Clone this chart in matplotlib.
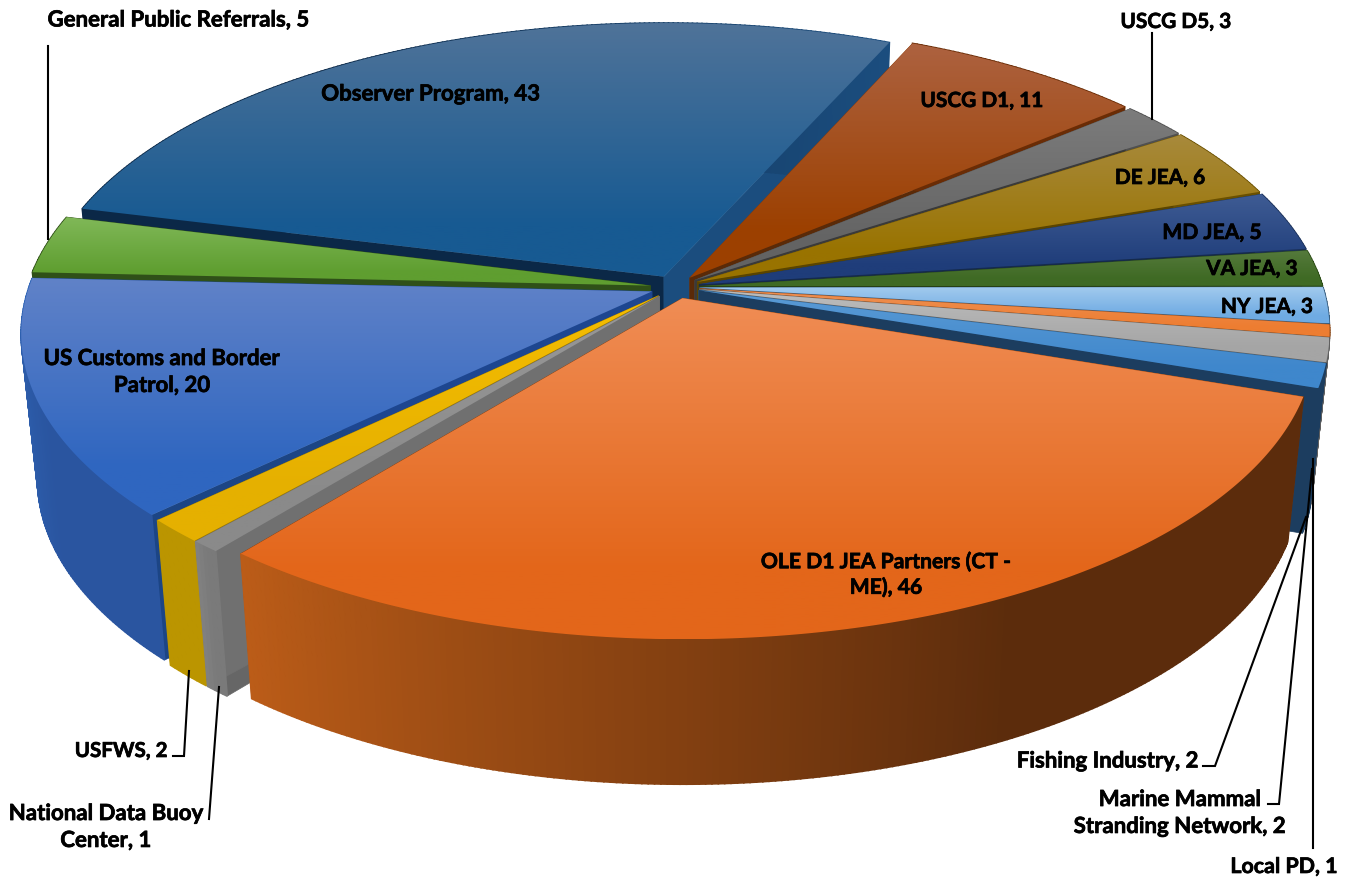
import matplotlib as mpl
mpl.use('Agg')
import matplotlib.pyplot as plt
import matplotlib.patheffects as pe
from matplotlib.colors import to_rgb
from matplotlib.patches import Polygon
import numpy as np

plt.rcParams['font.family'] = ['Lato', 'DejaVu Sans']

# clockwise from the first slice
names = ['USCG D1', 'USCG D5', 'DE JEA', 'MD JEA', 'VA JEA', 'NY JEA',
         'Local PD', 'Marine Mammal\nStranding Network', 'Fishing Industry',
         'OLE D1 JEA Partners (CT -\nME)', 'National Data Buoy\nCenter', 'USFWS',
         'US Customs and Border\nPatrol', 'General Public Referrals', 'Observer Program']
values = [11, 3, 6, 5, 3, 3, 1, 2, 2, 46, 1, 2, 20, 5, 43]

top_light = ['#ad6240', '#7c7c7c', '#a88a3c', '#3f5c94', '#557a3c', '#a3cbee', '#ee9155',
             '#bdbdbd', '#5b9bd5', '#f08d55', '#989898', '#f5bd00', '#6082c8', '#80b858', '#4f7399']
top_dark = ['#9c4000', '#636363', '#997300', '#1f3d7a', '#3f6a24', '#6fabe3', '#ed7d31',
            '#a5a5a5', '#3f87cc', '#e3661a', '#8a8a8a', '#e5b000', '#2f66c0', '#5f9e30', '#175a92']
face_start = ['#8a3a08', '#555555', '#7a5c00', '#1f3a66', '#2f5018', '#5a8ab8', '#b05a20',
              '#808080', '#2f6ea8', '#b05010', '#666666', '#b08a00', '#1c4585', '#2f5018', '#0b2847']
face_end = ['#5a2a08', '#3a3a3a', '#5a4400', '#152a4c', '#263f14', '#3a5f80', '#8a4818',
            '#606060', '#1c3d5f', '#8a4010', '#707070', '#a07d00', '#1d4690', '#2f5018', '#1b4d7e']
wall_a = ['#6a2c05', '#505050', '#6a5000', '#1a3058', '#2a4a14', '#3a5f80', '#8a4818',
          '#606060', '#1c3d5f', '#5c2c0c', '#7a7a7a', '#bb9500', '#2a55a0', '#2f5018', '#0b2847']
wall_b = ['#6a2c05', '#505050', '#6a5000', '#1a3058', '#2a4a14', '#3a5f80', '#8a4818',
          '#606060', '#1c3d5f', '#bb5c18', '#808080', '#bb9500', '#2f66b8', '#2f5018', '#1b4d7e']

label_xy = [(982, 102), (1176, 23), (1160, 179), (1212, 234), (1252, 270), (1267, 308),
            (1284, 868), (1180, 814), (1108, 762), (886, 576), (106, 828), (121, 752), (162, 373),
            (179, 21), (431, 95)]
label_size = [15, 15, 15, 15.2, 15, 15, 15.4, 16, 16, 15.2, 16, 14.8, 16, 16, 16]

leaders = [[(48, 47), (48, 240)], [(1152, 34), (1152, 120)], [(173, 757), (184, 757), (189, 672)],
           [(209, 820), (219, 688)], [(1203, 767), (1215, 767), (1306, 518)],
           [(1268, 805), (1279, 805), (1312, 470)], [(1313, 460), (1313, 849)]]

first_angle = 24.0
cx, cy = 675.0, 288.0
a, b, k = 623.0, 291.0, 0.137
explode = 0.04
depth = 145.0
shrink = 0.975
# the left front of the pie sits a little further round than the plain projection
warp_deg = 2.2


def warp(deg):
    d = (deg % 360 - 130)/190.0
    return deg + warp_deg*np.sin(np.pi*np.clip(d, 0, 1))


def project(u, v):
    w = 1 + k*v
    return cx + a*u/w, cy - b*v/w


def lower(x, y):
    return cx + (x - cx)*shrink, y + depth


def shade(c1, c2, t):
    return tuple(np.array(to_rgb(c1))*(1 - t) + np.array(to_rgb(c2))*t)


fig = plt.figure(figsize=(13.54, 8.79), dpi=100)
ax = fig.add_axes([0, 0, 1, 1])

vals = np.array(values, dtype=float)
sweep = vals/vals.sum()*360
starts = first_angle + np.concatenate(([0], np.cumsum(sweep)[:-1]))
mids = starts + sweep/2
order = np.argsort(-np.cos(np.radians(mids)))

z = 1
for i in order:
    th = np.radians(warp(np.linspace(starts[i], starts[i] + sweep[i], max(int(sweep[i]*2), 6))))
    m = np.radians(mids[i])
    ox, oy = explode*np.sin(m), explode*np.cos(m)
    ax_x, ax_y = project(ox, oy)
    xs, ys = project(ox + np.sin(th), oy + np.cos(th))
    bx, by = lower(xs, ys)
    abx, aby = lower(ax_x, ax_y)

    # the two cut faces, then the outer wall, then the top
    ax.add_patch(Polygon([(ax_x, ax_y), (xs[0], ys[0]), (bx[0], by[0]), (abx, aby)],
                         fc=face_start[i], ec=face_start[i], lw=0.5, zorder=z))
    ax.add_patch(Polygon([(ax_x, ax_y), (xs[-1], ys[-1]), (bx[-1], by[-1]), (abx, aby)],
                         fc=face_end[i], ec=face_end[i], lw=0.5, zorder=z))
    z += 1
    # back of the wall first, or it paints over the front where it folds round
    for j in np.argsort(ys[:-1]):
        t = j/(len(th) - 2)
        t = max(0.0, (t - 0.4)/0.6)
        c = shade(wall_a[i], wall_b[i], t)
        ax.add_patch(Polygon([(xs[j], ys[j]), (xs[j+1], ys[j+1]), (bx[j+1], by[j+1]), (bx[j], by[j])],
                             fc=c, ec=c, lw=1.2, zorder=z))
    z += 1

    px = np.concatenate(([ax_x], xs))
    py = np.concatenate(([ax_y], ys))
    rows = np.linspace(0, 1, 128)
    ramp = np.clip(rows/0.8, 0, 1)[:, None]
    img = (np.array(to_rgb(top_light[i]))*(1 - ramp) + np.array(to_rgb(top_dark[i]))*ramp)[:, None, :]
    im = ax.imshow(img, extent=(px.min(), px.max(), py.max(), py.min()), aspect='auto', zorder=z)
    clip = Polygon(np.column_stack([px, py]), fc='none', ec='none', zorder=0)
    ax.add_patch(clip)
    im.set_clip_path(clip)
    z += 1

for path in leaders:
    ax.plot([p[0] for p in path], [p[1] for p in path], color='black', lw=1.5, zorder=z,
            solid_joinstyle='miter')

for name, val, (x, y), size in zip(names, values, label_xy, label_size):
    ax.text(x, y, '%s, %d' % (name, val), ha='center', va='center', fontsize=size,
            fontweight='bold', color='black', linespacing=1.35, zorder=z + 1,
            path_effects=[pe.withStroke(linewidth=0.5, foreground='black')])

ax.set_xlim(0, 1354)
ax.set_ylim(879, 0)
ax.axis('off')
fig.savefig('out.png', dpi=100)
